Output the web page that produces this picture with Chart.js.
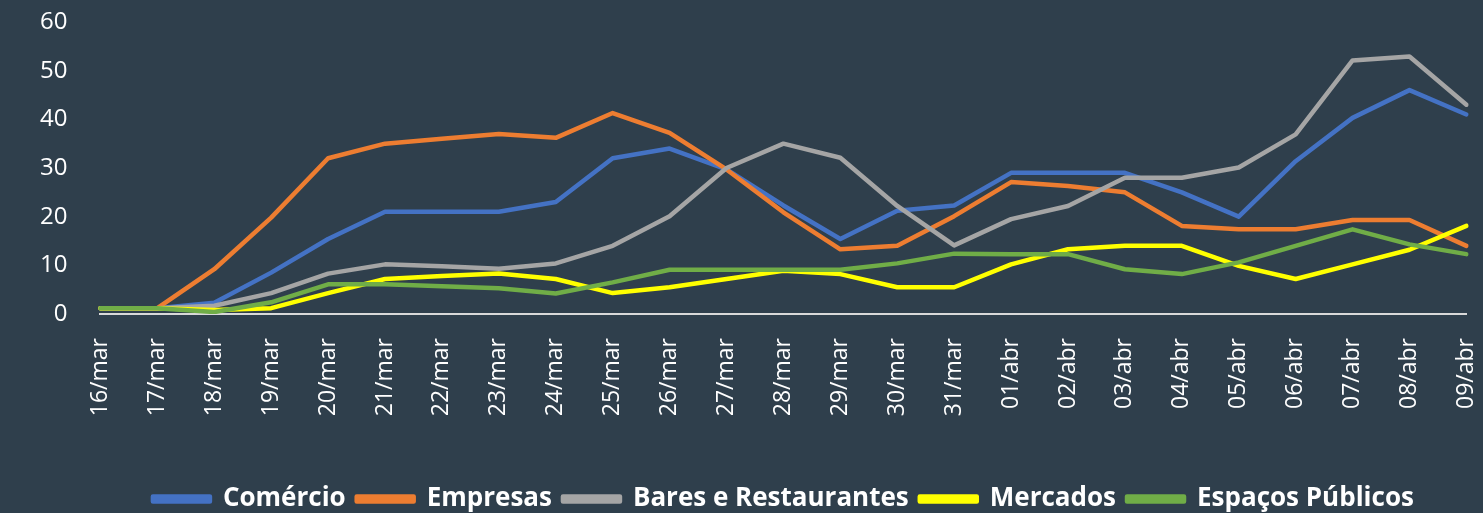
<!DOCTYPE html>
<html>
<head>
<meta charset="utf-8">
<script src="https://cdn.jsdelivr.net/npm/chart.js@4"></script>
<style>
  html, body { margin: 0; padding: 0; background: #2f3f4c; overflow: hidden; }
  #wrap { width: 1483px; height: 513px; overflow: hidden; }
</style>
</head>
<body>
<div id="wrap"><canvas id="lineChart" width="1510" height="513"></canvas></div>
<script>
// data
const dias = ['16/mar', '17/mar', '18/mar', '19/mar', '20/mar', '21/mar', '22/mar', '23/mar', '24/mar', '25/mar',
    '26/mar', '27/mar', '28/mar', '29/mar', '30/mar', '31/mar', '01/abr', '02/abr', '03/abr', '04/abr',
    '05/abr', '06/abr', '07/abr', '08/abr', '09/abr'];
const comercio = [1.2, 1.2, 2.3, 8.5, 15.4, 21, 21, 21, 23, 32, 34, 29.7, 22.3, 15.4, 21.2, 22.3, 29, 29, 29, 25, 20, 31.4, 40.3, 46, 41];
const empresas = [1.2, 1.2, 9.2, 19.8, 32, 35, 36, 37, 36.2, 41.3, 37.2, 29.7, 20.9, 13.3, 14, 20.1, 27.1, 26.3, 25, 18.1, 17.4, 17.4, 19.3, 19.3, 14];
const bares = [1.2, 1.2, 1.7, 4.3, 8.3, 10.2, 9.8, 9.3, 10.4, 14, 20.1, 30, 35, 32.1, 22.2, 14.1, 19.5, 22.2, 28, 28, 30.1, 36.9, 52.1, 52.9, 43];
const mercados = [1.2, 1.2, 0.8, 1.2, 4.3, 7.2, 7.8, 8.3, 7.2, 4.3, 5.5, 7.2, 8.9, 8.2, 5.5, 5.5, 10.2, 13.3, 14, 14, 9.9, 7.2, 10.2, 13.2, 18.1];
const espacos = [1.2, 1.2, 0.4, 2.4, 6.1, 6.1, 5.7, 5.3, 4.2, 6.5, 9.1, 9.1, 9.1, 9.1, 10.4, 12.4, 12.3, 12.3, 9.2, 8.2, 10.6, 14, 17.4, 14.3, 12.3];

Chart.defaults.font.family = '"Open Sans", sans-serif';
Chart.defaults.color = '#ffffff';

function serie(label, data, color, order) {
    return {
        label: label,
        data: data,
        borderColor: color,
        backgroundColor: color,
        borderWidth: 4.5,
        pointRadius: 0,
        tension: 0,
        borderCapStyle: 'round',
        borderJoinStyle: 'round',
        fill: false,
        order: order
    };
}

new Chart(document.getElementById('lineChart'), {
    type: 'line',
    data: {
        labels: dias,
        datasets: [
            serie('Comércio', comercio, '#4472c4', 5),
            serie('Empresas', empresas, '#ed7d31', 4),
            serie('Bares e Restaurantes', bares, '#a5a5a5', 3),
            serie('Mercados', mercados, '#ffff00', 2),
            serie('Espaços Públicos', espacos, '#70ad47', 1)
        ]
    },
    options: {
        responsive: false,
        animation: false,
        layout: { padding: { left: 15, right: 5, top: 22, bottom: -9 } },
        plugins: {
            tooltip: { enabled: false },
            legend: {
                position: 'bottom',
                fullSize: false,
                labels: {
                    boxWidth: 57,
                    boxHeight: 5,
                    padding: 11,
                    color: '#ffffff',
                    font: { size: 26, weight: 'bold' },
                    sort: (a, b) => a.datasetIndex - b.datasetIndex
                }
            }
        },
        scales: {
            x: {
                grid: { display: false },
                border: { display: true, color: '#d9d9d9', width: 2 },
                ticks: {
                    color: '#ffffff',
                    font: { size: 23 },
                    minRotation: 90,
                    maxRotation: 90,
                    padding: 16,
                    autoSkip: false
                },
                afterFit: (scale) => { scale.height = 161; }
            },
            y: {
                min: 0,
                max: 60,
                grid: { display: false },
                border: { display: false },
                ticks: {
                    stepSize: 10,
                    color: '#ffffff',
                    font: { size: 24 },
                    padding: 25
                },
                // tick padding would otherwise push the plot top down
                afterFit: (scale) => { scale.paddingTop = 14; scale.paddingBottom = 14; }
            }
        }
    }
});
</script>
</body>
</html>
